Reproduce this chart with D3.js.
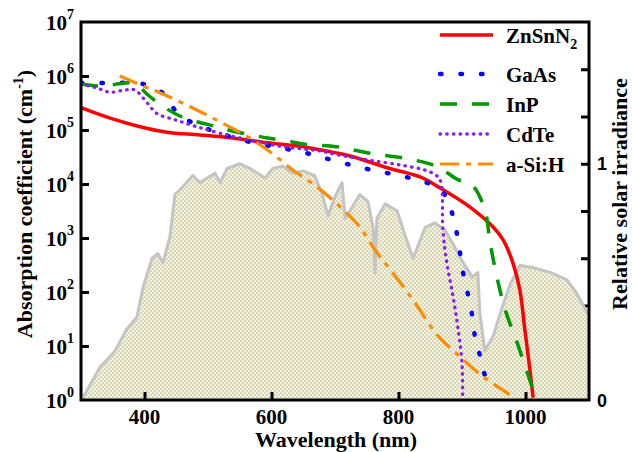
<!DOCTYPE html>
<html lang="en">
<head>
<meta charset="UTF-8">
<title>Absorption coefficient vs. solar spectrum</title>
<script src="https://d3js.org/d3.v7.min.js"></script>
<style>
  body { margin: 0; background: #fff; }
  svg text { font-family: "Liberation Serif", "Times New Roman", serif; font-weight: bold; fill: #000; }
</style>
</head>
<body>
<div id="chart"></div>
<script>
// ---- data ----
// solar spectrum, relative irradiance (right axis)
const solarWl  = [303, 330, 341, 354, 372, 388, 398, 412, 421, 429, 440, 448, 456, 476, 487, 511, 519, 530, 550, 566,
                  590, 602, 617, 634, 650, 668, 680, 689, 700, 711, 716, 728, 739, 752, 760, 763, 766, 779, 798, 810,
                  823, 842, 857, 873, 886, 900, 916, 925, 928, 936, 949, 963, 976, 991, 1012, 1039, 1065, 1081, 1097, 1100];
const solarIrr = [0.01, 0.14, 0.17, 0.21, 0.30, 0.35, 0.48, 0.60, 0.62, 0.58, 0.69, 0.87, 0.89, 0.95, 0.92, 0.96, 0.92, 0.98, 1.00, 0.98,
                  0.94, 0.98, 0.99, 0.96, 0.97, 0.95, 0.87, 0.78, 0.86, 0.92, 0.77, 0.82, 0.87, 0.84, 0.73, 0.54, 0.77, 0.83, 0.80, 0.70,
                  0.60, 0.73, 0.75, 0.72, 0.66, 0.59, 0.52, 0.54, 0.37, 0.21, 0.27, 0.39, 0.49, 0.57, 0.56, 0.54, 0.51, 0.45, 0.37, 0.36];

// absorption coefficients (cm^-1)
const znsnn2Wl  = [300, 346, 393, 435, 487, 539, 593, 650, 676, 728, 782, 834, 865, 913, 949, 965, 980, 991, 999, 1007, 1012];
const znsnn2Abs = [2.6e5, 1.66e5, 1.15e5, 9.1e4, 8.1e4, 7.1e4, 5.8e4, 4.9e4, 4.3e4, 3.2e4, 2.0e4, 1.35e4, 8.5e3, 3.7e3, 1.6e3, 910, 350, 110, 20, 3.6, 1.1];

const gaasWl  = [300, 333, 398, 428, 453, 484, 519, 566, 613, 648, 676, 710, 742, 775, 807, 839, 869, 884, 892, 897, 902, 909, 916, 920, 928, 936];
const gaasAbs = [7.4e5, 7.4e5, 7.1e5, 4.9e5, 2.0e5, 1.23e5, 8.7e4, 6.0e4, 4.7e4, 3.9e4, 3.2e4, 2.5e4, 2.0e4, 1.66e4, 1.38e4, 1.12e4, 7.2e3, 3.0e3, 1.2e3, 520, 220, 95, 37, 16, 6.8, 2.8];

const inpWl  = [300, 330, 369, 385, 405, 432, 459, 484, 514, 539, 569, 594, 624, 650, 703, 755, 810, 861, 892, 916, 936, 944, 955, 968, 988, 1007, 1015];
const inpAbs = [7.1e5, 6.5e5, 7.4e5, 7.4e5, 4.5e5, 2.6e5, 1.74e5, 1.41e5, 1.15e5, 9.5e4, 8.1e4, 7.1e4, 6.3e4, 5.5e4, 4.9e4, 3.7e4, 3.0e4, 2.1e4, 1.23e4, 9.5e3, 3.3e3, 850, 190, 47, 10.5, 2.3, 1.15];

const cdteWl  = [300, 325, 346, 369, 385, 404, 420, 448, 480, 519, 566, 618, 676, 703, 755, 807, 842, 861, 867, 870, 876, 886, 894, 900, 901];
const cdteAbs = [7.1e5, 6.0e5, 5.0e5, 5.5e5, 5.5e5, 3.2e5, 2.0e5, 1.55e5, 1.17e5, 8.7e4, 6.5e4, 4.9e4, 4.1e4, 3.5e4, 2.75e4, 2.2e4, 1.8e4, 1.4e4, 1.05e4, 1.4e3, 350, 81, 20, 4.9, 1.1];

const asihWl  = [361, 398, 424, 472, 519, 558, 598, 634, 668, 703, 739, 763, 787, 823, 861, 894, 928, 952, 976];
const asihAbs = [1.0e6, 6.5e5, 4.9e5, 2.7e5, 1.41e5, 8.1e4, 3.9e4, 1.8e4, 9.5e3, 4.3e3, 1.6e3, 600, 260, 71, 16, 6.8, 3.0, 1.9, 1.23];

const seriesNames = ["ZnSnN2", "GaAs", "InP", "CdTe", "a-Si:H"];
const seriesWl    = [znsnn2Wl, gaasWl, inpWl, cdteWl, asihWl];
const seriesAbs   = [znsnn2Abs, gaasAbs, inpAbs, cdteAbs, asihAbs];

// ticks
const xTicks = [400, 600, 800, 1000];
const yTicks = [1, 10, 100, 1e3, 1e4, 1e5, 1e6, 1e7];
const rTicks = [0.2, 0.4, 0.6, 0.8, 1.0, 1.2, 1.4];
const rLabels = [0, 1];

// ---- styles ----
const seriesColor = ["#ff0000", "#0000ff", "#009a00", "#8a1cf0", "#ff8c00"];
const seriesDash  = [null, "1.5,19", "17,15", "0.5,6.2", "19,7,5,7"];
const seriesWidth = [3.5, 4.5, 3.5, 3.3, 3.2];
const seriesCap   = ["butt", "round", "butt", "round", "butt"];

// ---- layout ----
const W = 632, H = 452;
const L = 81, R = 589, T = 22, B = 400;

const svg = d3.select("#chart").append("svg")
  .attr("width", W).attr("height", H);

const x  = d3.scaleLinear().domain([300, 1100]).range([L, R]);
const y  = d3.scaleLog().domain([1, 1e7]).range([B, T]);
const yR = d3.scaleLinear().domain([0, 1.6]).range([B, T]);

const defs = svg.append("defs");
defs.append("clipPath").attr("id", "plot")
  .append("rect").attr("x", L).attr("y", T).attr("width", R - L).attr("height", B - T);

// checkered fill used in the original for the solar spectrum
const pat = defs.append("pattern").attr("id", "check")
  .attr("patternUnits", "userSpaceOnUse").attr("width", 4).attr("height", 4);
pat.append("rect").attr("width", 4).attr("height", 4).attr("fill", "#f3f2dc");
pat.append("rect").attr("width", 2).attr("height", 2).attr("fill", "#d9d7ba");
pat.append("rect").attr("x", 2).attr("y", 2).attr("width", 2).attr("height", 2).attr("fill", "#d9d7ba");

// right axis ticks (drawn under the spectrum, like the original)
const rAxis = svg.append("g").attr("transform", `translate(${R},0)`)
  .call(d3.axisRight(yR).tickValues(rTicks).tickSize(-8).tickFormat(""));
rAxis.select(".domain").remove();
rAxis.selectAll(".tick line").attr("stroke", "#000").attr("stroke-width", 3);

// solar spectrum
const solar = solarWl.map((w, i) => [w, solarIrr[i]]);
const plotG = svg.append("g").attr("clip-path", "url(#plot)");

plotG.append("path")
  .datum(solar)
  .attr("fill", "url(#check)")
  .attr("d", d3.area().x(d => x(d[0])).y0(B).y1(d => yR(d[1])));
plotG.append("path")
  .datum(solar)
  .attr("fill", "none")
  .attr("stroke", "#c4c4c4")
  .attr("stroke-width", 3)
  .attr("stroke-linejoin", "round")
  .attr("d", d3.line().x(d => x(d[0])).y(d => yR(d[1])));

// absorption curves
const line = d3.line()
  .x(d => x(d[0])).y(d => y(d[1]))
  .curve(d3.curveCatmullRom.alpha(0.5));

seriesNames.forEach((name, i) => {
  const pts = seriesWl[i].map((w, j) => [w, seriesAbs[i][j]]);
  plotG.append("path")
    .datum(pts)
    .attr("fill", "none")
    .attr("stroke", seriesColor[i])
    .attr("stroke-width", seriesWidth[i])
    .attr("stroke-dasharray", seriesDash[i])
    .attr("stroke-linecap", seriesCap[i])
    .attr("d", line);
});

// frame
svg.append("rect")
  .attr("x", L).attr("y", T).attr("width", R - L).attr("height", B - T)
  .attr("fill", "none").attr("stroke", "#000").attr("stroke-width", 3);

// left axis
const lAxis = svg.append("g").attr("transform", `translate(${L},0)`)
  .call(d3.axisLeft(y).tickValues(yTicks.slice(1, -1)).tickSize(-8).tickFormat(""));
lAxis.select(".domain").remove();
lAxis.selectAll(".tick line").attr("stroke", "#000").attr("stroke-width", 3);

const yLab = svg.append("g").selectAll("text")
  .data(yTicks).enter().append("text")
  .attr("x", 74)
  .attr("y", d => y(d) + 8)
  .attr("text-anchor", "end")
  .style("font-size", "21px");
yLab.append("tspan").text("10");
yLab.append("tspan")
  .attr("dy", -11)
  .style("font-size", "14px")
  .text(d => Math.round(Math.log10(d)));

// bottom axis
const bAxis = svg.append("g").attr("transform", `translate(0,${B})`)
  .call(d3.axisBottom(x).tickValues(xTicks).tickSize(-8).tickFormat(""));
bAxis.select(".domain").remove();
bAxis.selectAll(".tick line").attr("stroke", "#000").attr("stroke-width", 3);

svg.append("g").selectAll("text")
  .data(xTicks).enter().append("text")
  .attr("x", d => x(d))
  .attr("y", 424)
  .attr("text-anchor", "middle")
  .style("font-size", "21px")
  .text(d => d);

// right axis labels
svg.append("g").selectAll("text")
  .data(rLabels).enter().append("text")
  .attr("x", 597)
  .attr("y", d => yR(d) + 6.5)
  .style("font-family", "'Liberation Sans', Arial, sans-serif")
  .style("font-size", "18px")
  .text(d => d);

// axis titles
svg.append("text")
  .attr("x", 336).attr("y", 447)
  .attr("text-anchor", "middle")
  .style("font-size", "22px")
  .text("Wavelength (nm)");

const yTitle = svg.append("text")
  .attr("transform", "translate(32,204) rotate(-90)")
  .attr("text-anchor", "middle")
  .style("font-size", "22px");
yTitle.append("tspan").text("Absorption coefficient (cm");
yTitle.append("tspan").attr("dy", -9).style("font-size", "14px").text("-1");
yTitle.append("tspan").attr("dy", 9).text(")");

svg.append("text")
  .attr("transform", "translate(627,194) rotate(-90)")
  .attr("text-anchor", "middle")
  .style("font-size", "22px")
  .text("Relative solar irradiance");

// legend
const leg = svg.append("g");
seriesNames.forEach((name, i) => {
  const ly = i === 0 ? 35 : 44 + 30 * i;
  leg.append("line")
    .attr("x1", 440).attr("x2", 493)
    .attr("y1", ly).attr("y2", ly)
    .attr("stroke", seriesColor[i])
    .attr("stroke-width", seriesWidth[i])
    .attr("stroke-dasharray", seriesDash[i])
    .attr("stroke-linecap", seriesCap[i]);
  const t = leg.append("text")
    .attr("x", 506).attr("y", ly + 8)
    .style("font-size", "21px");
  const m = name.match(/^(.*?)(\d+)$/);
  if (m) {
    t.append("tspan").text(m[1]);
    t.append("tspan").attr("dy", 6).style("font-size", "14px").text(m[2]);
  } else {
    t.text(name);
  }
});
</script>
</body>
</html>
